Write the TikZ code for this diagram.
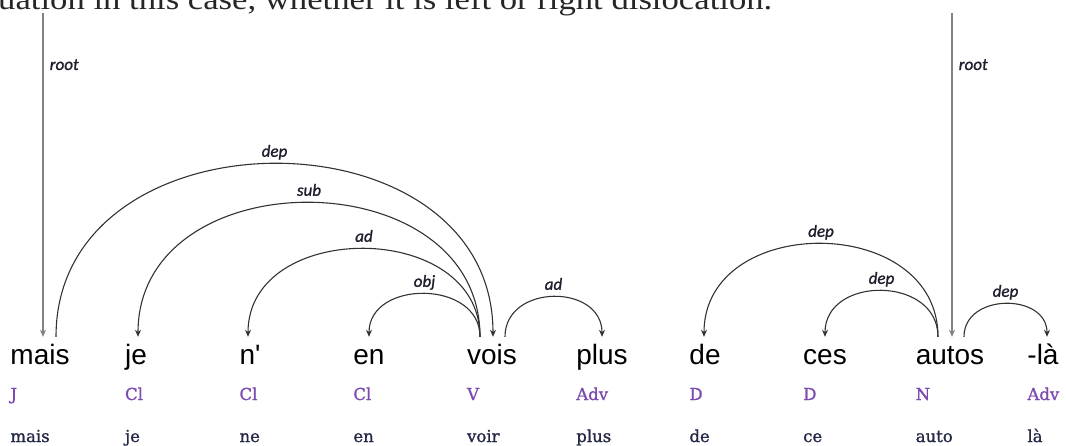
\documentclass[tikz,border=0pt]{standalone}
\usepackage{graphicx}
\usepackage{fontspec}
\setmainfont{Liberation Serif}
\newfontfamily\wordfam{Liberation Sans}
\newfontfamily\labfam[FakeBold=1.2]{Carlito}
\newfontfamily\posfam[FakeBold=1.2]{DejaVu Serif}
\usetikzlibrary{arrows.meta,calc}
\definecolor{arccol}{RGB}{50,50,50}
\definecolor{rootcol}{RGB}{130,130,130}
\definecolor{poscol}{RGB}{125,75,175}
\definecolor{lemcol}{RGB}{35,40,70}
\definecolor{labcol}{RGB}{30,30,45}
\begin{document}
\begin{tikzpicture}[x=1pt,y=-1pt,
  word/.style={font=\wordfam\fontsize{28}{30}\selectfont, inner sep=0pt, text height=20pt, text depth=6pt, anchor=base},
  postag/.style={font=\posfam\fontsize{16.5}{20}\selectfont, text=poscol, inner sep=0pt, anchor=base west},
  lemma/.style={font=\posfam\fontsize{16.5}{20}\selectfont, text=lemcol, inner sep=0pt, anchor=base west},
  lab/.style={font=\labfam\itshape\fontsize{17}{20}\selectfont, text=labcol, inner sep=0pt, anchor=base, yshift=7pt},
  rootlab/.style={font=\labfam\itshape\fontsize{17}{20}\selectfont, text=labcol, inner sep=0pt, anchor=base west, xshift=6pt},
  deparc/.style={draw=arccol, line width=1.1pt, -{Stealth[length=7pt,width=6pt]}},
  rootarrow/.style={draw=rootcol, line width=1.5pt, -{Stealth[length=7pt,width=6pt]}}
]
\useasboundingbox (0,0) rectangle (1066,446);
\clip (0,0) rectangle (1066,446);

% cut-off paragraph line at the top
\node[anchor=base west, inner sep=0pt, text=black!85] (para) at (-2,10)
  {\fontsize{30}{32}\selectfont\resizebox{774pt}{\height}{uation in this case, whether it is left or right dislocation.}};

% words
\node[word] (mais)  at (40,365)   {mais};
\node[word] (je)    at (136,365)  {je};
\node[word] (ne)    at (250,365)  {n\textquotesingle};
\node[word] (en)    at (369,365)  {en};
\node[word] (vois)  at (492,365)  {vois};
\node[word] (plus)  at (602,365)  {plus};
\node[word] (de)    at (705,365)  {de};
\node[word] (ces)   at (825,365)  {ces};
\node[word] (autos) at (950,365)  {autos};
\node[word] (la)    at (1043,365) {-là};

% POS tags
\foreach \w/\p in {mais/J, je/Cl, ne/Cl, en/Cl, vois/V, plus/Adv, de/D, ces/D, autos/N, la/Adv}
  \node[postag] (\w-pos) at ([yshift=-35pt]\w.base west) {\p};
% lemmas
\foreach \w/\l in {mais/mais, je/je, ne/ne, en/en, vois/voir, plus/plus, de/de, ces/ce, autos/auto, la/là}
  \node[lemma] (\w-lem) at ([yshift=-77pt]\w.base west) {\l};

% arc feet
\coordinate (mais-in)  at ([xshift=3pt,yshift=8pt]mais.north);
\coordinate (mais-out) at ([xshift=16pt,yshift=8pt]mais.north);
\coordinate (je-in)    at ([xshift=2pt,yshift=8pt]je.north);
\coordinate (ne-in)    at ([xshift=-2pt,yshift=8pt]ne.north);
\coordinate (en-in)    at ([xshift=0pt,yshift=8pt]en.north);
\coordinate (vois-l)   at ([xshift=-12pt,yshift=8pt]vois.north);
\coordinate (vois-in)  at ([xshift=1pt,yshift=8pt]vois.north);
\coordinate (vois-r)   at ([xshift=13pt,yshift=8pt]vois.north);
\coordinate (plus-in)  at ([xshift=0pt,yshift=8pt]plus.north);
\coordinate (de-in)    at ([xshift=-1pt,yshift=8pt]de.north);
\coordinate (ces-in)   at ([xshift=0pt,yshift=8pt]ces.north);
\coordinate (autos-l)  at ([xshift=-12pt,yshift=8pt]autos.north);
\coordinate (autos-in) at ([xshift=2pt,yshift=8pt]autos.north);
\coordinate (autos-r)  at ([xshift=14pt,yshift=8pt]autos.north);
\coordinate (la-in)    at ([xshift=4pt,yshift=8pt]la.north);

% root arrows
\coordinate (root1) at (43,13);
\coordinate (root2) at (952,13);
\draw[rootarrow] (root1) -- (mais-in) node[rootlab, pos=0.176] {root};
\draw[rootarrow] (root2) -- (autos-in) node[rootlab, pos=0.176] {root};

% dependency arcs
\draw[deparc] (mais-out) .. controls +(0,-230.7) and +(0,-230.7) .. (vois-in) node[lab, midway] {dep};
\draw[deparc] (vois-l) .. controls +(0,-178.7) and +(0,-178.7) .. (je-in) node[lab, midway] {sub};
\draw[deparc] (vois-l) .. controls +(0,-117.3) and +(0,-117.3) .. (ne-in) node[lab, midway] {ad};
\draw[deparc] (vois-l) .. controls +(0,-57.3) and +(0,-57.3) .. (en-in) node[lab, midway] {obj};
\draw[deparc] (vois-r) .. controls +(0,-53.3) and +(0,-53.3) .. (plus-in) node[lab, midway] {ad};
\draw[deparc] (autos-l) .. controls +(0,-124) and +(0,-124) .. (de-in) node[lab, midway] {dep};
\draw[deparc] (autos-l) .. controls +(0,-61.3) and +(0,-61.3) .. (ces-in) node[lab, midway] {dep};
\draw[deparc] (autos-r) .. controls +(0,-44) and +(0,-44) .. (la-in) node[lab, midway] {dep};
\end{tikzpicture}
\end{document}
